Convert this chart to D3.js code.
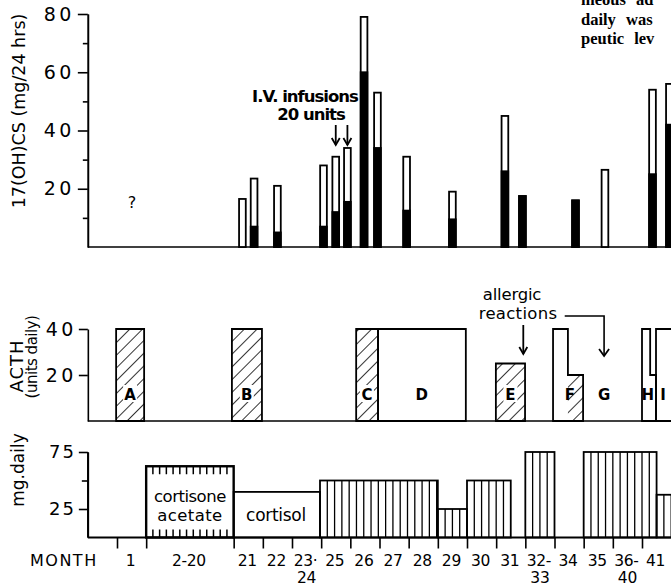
<!DOCTYPE html>
<html><head><meta charset="utf-8">
<script src="https://cdn.jsdelivr.net/npm/d3@7"></script>
<style>
body{margin:0;background:#fff}
svg{display:block}
</style>
</head><body><svg id="c" width="671" height="587"></svg>
<script>
// ---------- DATA ----------
// x positions are in "month slots" (each slot = one month group on the MONTH axis)
const monthLine1 = ["1","2-20","21","22","23·","25","26","27","28","29","30","31","32-","34","35","36-","41"];
const monthLine2 = ["","","","","24","","","","","","","","33","","","40",""];
const monthSlotStart = [1,2,5,6,7,8,9,10,11,12,13,14,15,16,17,18,19];
const monthSlotEnd   = [2,5,6,7,8,9,10,11,12,13,14,15,16,17,18,19,20];
const monthTicks = [1,2,5,6,7,8,9,10,11,12,13,14,15,16,17,18,19];

// 17(OH)CS urinary excretion (mg / 24 hrs): total bar and black (lower) part
const ohcsPos   = [5.3, 5.7, 6.5, 8.08, 8.5, 8.9, 9.47, 9.93, 10.93, 12.5, 14.3, 14.9, 16.72, 17.73, 19.36, 19.94];
const ohcsTotal = [16.5, 23.5, 21, 28, 31, 34, 79, 53, 31, 19, 45, 17.5, 16, 26.5, 54, 56];
const ohcsBlack = [0, 7, 5, 7, 12, 15.5, 60, 34, 12.5, 9.5, 26, 17.5, 16, 0, 25, 42];
const ohcsMajorTicks = [20,40,60,80];
const ohcsMinorTicks = [10,30,50,70];

// ACTH courses (units daily)
const acthStart = [0.97, 4.94, 9.2, 9.95, 13.99, 15.95, 16.46, 19.0, 19.28, 19.48];
const acthEnd   = [1.93, 5.97, 9.95, 12.96, 14.99, 16.46, 16.98, 19.28, 19.48, 20.5];
const acthUnits = [40, 40, 40, 40, 25, 40, 20, 40, 20, 40];
const acthHatch = [1, 1, 1, 0, 1, 0, 1, 0, 0, 0];
const acthGroup = [0, 1, 2, 3, 4, 5, 5, 6, 6, 7];
const acthLetters   = ["A","B","C","D","E","F","G","H","I"];
const acthLetterPos = [1.45, 5.45, 9.57, 11.45, 14.49, 16.53, 17.7, 19.2, 19.72];
const acthTicks = [20,40];

// Corticoid therapy (mg daily)
const steroidStart = [2, 5, 7.96, 12, 13, 15, 17, 19.5];
const steroidEnd   = [5, 7.96, 12, 13, 14.5, 16, 19.5, 20.5];
const steroidMg    = [62.5, 40, 50, 25, 50, 75, 75, 37.5];
const steroidKind  = ["ruled","plain","lined","lined","lined","lined","lined","lined"];
const mgMajorTicks = [25,75];
const mgMinorTicks = [50];

// ---------- CHART ----------
const FONT = "'DejaVu Sans', sans-serif";
const svg = d3.select("#c");
const x = d3.scaleLinear().domain([1,19]).range([117,642]);
const X0 = x(0), XR = 671;
const yTop = d3.scaleLinear().domain([0,80]).range([247,14]);
const yAct = d3.scaleLinear().domain([0,40]).range([421,329]);
const yMg  = d3.scaleLinear().domain([0,75]).range([537.5,452]);

const defs = svg.append("defs");
const pat = defs.append("pattern").attr("id","hatch").attr("patternUnits","userSpaceOnUse")
  .attr("width",9).attr("height",9).attr("patternTransform","rotate(45)");
pat.append("line").attr("x1",0).attr("y1",0).attr("x2",0).attr("y2",9).attr("stroke","#000").attr("stroke-width",1.6);

function styleAxis(g, size, ls){
  g.selectAll("path,line").attr("stroke","#000").attr("stroke-width",1.6);
  g.selectAll("text").attr("font-family",FONT).attr("font-size",size).attr("fill","#000").attr("letter-spacing",ls||0);
}

// ---- top panel ----
const gT = svg.append("g").attr("transform",`translate(${X0},0)`);
gT.call(d3.axisLeft(yTop).tickValues(ohcsMajorTicks).tickSize(10).tickSizeOuter(0).tickPadding(3));
gT.append("g").call(d3.axisLeft(yTop).tickValues(ohcsMinorTicks).tickSize(5).tickSizeOuter(0).tickFormat(""));
styleAxis(gT, 19, 3.5);
svg.append("line").attr("x1",X0).attr("x2",XR).attr("y1",yTop(0)).attr("y2",yTop(0)).attr("stroke","#000").attr("stroke-width",1.6);

const bars = ohcsPos.map((p,i)=>({p, t:ohcsTotal[i], b:ohcsBlack[i]}));
const bw = 0.115;
svg.append("g").selectAll("rect").data(bars).join("rect")
  .attr("x",d=>x(d.p-bw)).attr("width",d=>x(d.p+bw)-x(d.p-bw))
  .attr("y",d=>yTop(d.t)).attr("height",d=>yTop(0)-yTop(d.t))
  .attr("fill","#fff").attr("stroke","#000").attr("stroke-width",1.8);
svg.append("g").selectAll("rect").data(bars.filter(d=>d.b>0)).join("rect")
  .attr("x",d=>x(d.p-bw)).attr("width",d=>x(d.p+bw)-x(d.p-bw))
  .attr("y",d=>yTop(d.b)).attr("height",d=>yTop(0)-yTop(d.b))
  .attr("fill","#000").attr("stroke","#000").attr("stroke-width",1.8);

svg.append("text").attr("transform",`translate(25,111) rotate(-90)`)
  .attr("text-anchor","middle").attr("font-family",FONT).attr("font-size",17.5).text("17(OH)CS (mg/24 hrs)");
svg.append("text").attr("x",132).attr("y",208).attr("text-anchor","middle").attr("font-family",FONT).attr("font-size",16).text("?");

svg.append("text").attr("x",305).attr("y",102).attr("text-anchor","middle").attr("font-family",FONT).attr("font-size",16.5).attr("font-weight","600").attr("letter-spacing",-1).text("I.V. infusions");
svg.append("text").attr("x",311).attr("y",120).attr("text-anchor","middle").attr("font-family",FONT).attr("font-size",16.5).attr("font-weight","600").attr("letter-spacing",-1).text("20 units");

function arrow(xp, y1, y2){
  const g = svg.append("g").attr("stroke","#000").attr("stroke-width",1.8).attr("fill","none");
  g.append("line").attr("x1",xp).attr("x2",xp).attr("y1",y1).attr("y2",y2);
  g.append("path").attr("d",`M${xp-4},${y2-7}L${xp},${y2}L${xp+4},${y2-7}`);
}
arrow(x(8.5), 125, 145);
arrow(x(8.9), 125, 145);

// ---- ACTH panel ----
const gA = svg.append("g").attr("transform",`translate(${X0},0)`);
gA.call(d3.axisLeft(yAct).tickValues(acthTicks).tickSize(9).tickSizeOuter(0).tickPadding(2));
styleAxis(gA, 19, 3.5);
svg.append("line").attr("x1",X0).attr("x2",XR).attr("y1",yAct(0)).attr("y2",yAct(0)).attr("stroke","#000").attr("stroke-width",1.6);

const segs = acthStart.map((s,i)=>({s, e:acthEnd[i], v:acthUnits[i], h:acthHatch[i], g:acthGroup[i]}));
svg.append("g").selectAll("rect").data(segs.filter(d=>d.h)).join("rect")
  .attr("x",d=>x(d.s)).attr("width",d=>x(d.e)-x(d.s))
  .attr("y",d=>yAct(d.v)).attr("height",d=>yAct(0)-yAct(d.v)).attr("fill","url(#hatch)");
const groups = d3.groups(segs, d=>d.g);
const area = d3.area().curve(d3.curveStepAfter).x(d=>x(d[0])).y0(yAct(0)).y1(d=>yAct(d[1]));
svg.append("g").selectAll("path").data(groups).join("path")
  .attr("d",([,arr])=>area(arr.map(d=>[d.s,d.v]).concat([[arr[arr.length-1].e, arr[arr.length-1].v]])))
  .attr("fill","none").attr("stroke","#000").attr("stroke-width",1.8);

const letters = acthLetters.map((l,i)=>({l, p:acthLetterPos[i]}));
const lg = svg.append("g");
lg.selectAll("rect").data(letters.filter(d=>"ABCE".includes(d.l))).join("rect")
  .attr("x",d=>x(d.p)-7).attr("y",385).attr("width",14).attr("height",17).attr("fill","#fff");
lg.selectAll("text").data(letters).join("text")
  .attr("x",d=>x(d.p)).attr("y",400).attr("text-anchor","middle")
  .attr("font-family",FONT).attr("font-size",15).attr("font-weight","bold").text(d=>d.l);

svg.append("text").attr("transform","translate(23,366) rotate(-90)").attr("text-anchor","middle")
  .attr("font-family",FONT).attr("font-size",18).attr("letter-spacing",1).text("ACTH");
svg.append("text").attr("transform","translate(37,357) rotate(-90)").attr("text-anchor","middle")
  .attr("font-family",FONT).attr("font-size",15).attr("letter-spacing",-0.5).text("(units daily)");

svg.append("text").attr("x",512).attr("y",300).attr("text-anchor","middle").attr("font-family",FONT).attr("font-size",16.5).attr("letter-spacing",-0.2).text("allergic");
svg.append("text").attr("x",518).attr("y",319).attr("text-anchor","middle").attr("font-family",FONT).attr("font-size",16.5).attr("letter-spacing",0.3).text("reactions");
arrow(x(14.93), 325, 354);
svg.append("path").attr("d",`M${x(16.35)},316H${x(17.7)}V356`).attr("fill","none").attr("stroke","#000").attr("stroke-width",1.6);
svg.append("path").attr("d",`M${x(17.7)-5},349L${x(17.7)},356L${x(17.7)+5},349`).attr("fill","none").attr("stroke","#000").attr("stroke-width",1.8);

// ---- corticoid panel ----
const gM = svg.append("g").attr("transform",`translate(${X0},0)`);
gM.call(d3.axisLeft(yMg).tickValues(mgMajorTicks).tickSize(9).tickSizeOuter(0).tickPadding(3));
gM.append("g").call(d3.axisLeft(yMg).tickValues(mgMinorTicks).tickSize(6).tickSizeOuter(0).tickFormat(""));
styleAxis(gM, 18, 2);
gM.select(".domain").attr("d",`M0,${yMg(75)}V${yMg(0)}`);

const st = steroidStart.map((s,i)=>({s, e:steroidEnd[i], v:steroidMg[i], k:steroidKind[i]}));
// vertical line fill
const vLines = [];
st.filter(d=>d.k==="lined").forEach(d=>{
  d3.range(d.s+0.25, d.e-0.01, 0.25).forEach(p=>vLines.push({p, v:d.v}));
});
svg.append("g").selectAll("line").data(vLines).join("line")
  .attr("x1",d=>x(d.p)).attr("x2",d=>x(d.p)).attr("y1",d=>yMg(d.v)).attr("y2",yMg(0))
  .attr("stroke","#000").attr("stroke-width",1.3);
// ruled fill (cortisone acetate): short ticks top & bottom
const rTicks = [];
st.filter(d=>d.k==="ruled").forEach(d=>{
  const n = 13;
  d3.range(1,n).forEach(j=>rTicks.push({p:d.s+(d.e-d.s)*j/n, v:d.v}));
});
const rg = svg.append("g").attr("stroke","#000").attr("stroke-width",1.5);
rg.selectAll("line.t").data(rTicks).join("line").attr("class","t")
  .attr("x1",d=>x(d.p)).attr("x2",d=>x(d.p)).attr("y1",d=>yMg(d.v)).attr("y2",d=>yMg(d.v)+8);
rg.selectAll("line.b").data(rTicks).join("line").attr("class","b")
  .attr("x1",d=>x(d.p)).attr("x2",d=>x(d.p)).attr("y1",yMg(0)-8).attr("y2",yMg(0));
svg.append("g").selectAll("rect").data(st).join("rect")
  .attr("x",d=>x(d.s)).attr("width",d=>x(d.e)-x(d.s))
  .attr("y",d=>yMg(d.v)).attr("height",d=>yMg(0)-yMg(d.v))
  .attr("fill","none").attr("stroke","#000").attr("stroke-width",d=>d.k==="ruled"?2.4:1.8);

svg.append("text").attr("x",x(3.5)).attr("y",502).attr("text-anchor","middle").attr("font-family",FONT).attr("font-size",16.5).attr("letter-spacing",-0.5).text("cortisone");
svg.append("text").attr("x",x(3.5)).attr("y",521).attr("text-anchor","middle").attr("font-family",FONT).attr("font-size",16.5).attr("letter-spacing",0.4).text("acetate");
svg.append("text").attr("x",x(6.45)).attr("y",521).attr("text-anchor","middle").attr("font-family",FONT).attr("font-size",17).attr("letter-spacing",-0.3).text("cortisol");

svg.append("text").attr("transform","translate(24,470) rotate(-90)").attr("text-anchor","middle")
  .attr("font-family",FONT).attr("font-size",17).text("mg.daily");

// month axis
svg.append("line").attr("x1",X0).attr("x2",XR).attr("y1",yMg(0)).attr("y2",yMg(0)).attr("stroke","#000").attr("stroke-width",1.8);
const gX = svg.append("g").attr("transform",`translate(0,${yMg(0)})`);
gX.call(d3.axisBottom(x).tickValues(monthTicks).tickSize(11).tickSizeOuter(0).tickFormat(""));
gX.select(".domain").remove();
styleAxis(gX, 17);

const months = monthLine1.map((l,i)=>({l, l2:monthLine2[i], c:(monthSlotStart[i]+monthSlotEnd[i])/2}));
const mg = svg.append("g").attr("font-family",FONT).attr("font-size",15.5).attr("text-anchor","middle").attr("letter-spacing",-0.3);
mg.selectAll("text.a").data(months).join("text").attr("class","a").attr("x",d=>x(d.c)-1).attr("y",566).text(d=>d.l);
mg.selectAll("text.b").data(months.filter(d=>d.l2)).join("text").attr("class","b").attr("x",d=>x(d.c)).attr("y",583).text(d=>d.l2);
svg.append("text").attr("x",30).attr("y",566).attr("font-family",FONT).attr("font-size",16).attr("letter-spacing",1.5).text("MONTH");

// fragment of surrounding page text (cropped at the top edge, as in the scan)
const pg = svg.append("g").attr("font-family","'Liberation Serif', serif").attr("font-size",16.5).attr("font-weight","bold").attr("word-spacing",6);
pg.append("text").attr("x",581).attr("y",5).text("meous ad");
pg.append("text").attr("x",581).attr("y",25).text("daily was");
pg.append("text").attr("x",581).attr("y",44).text("peutic lev");
</script>
</body></html>
